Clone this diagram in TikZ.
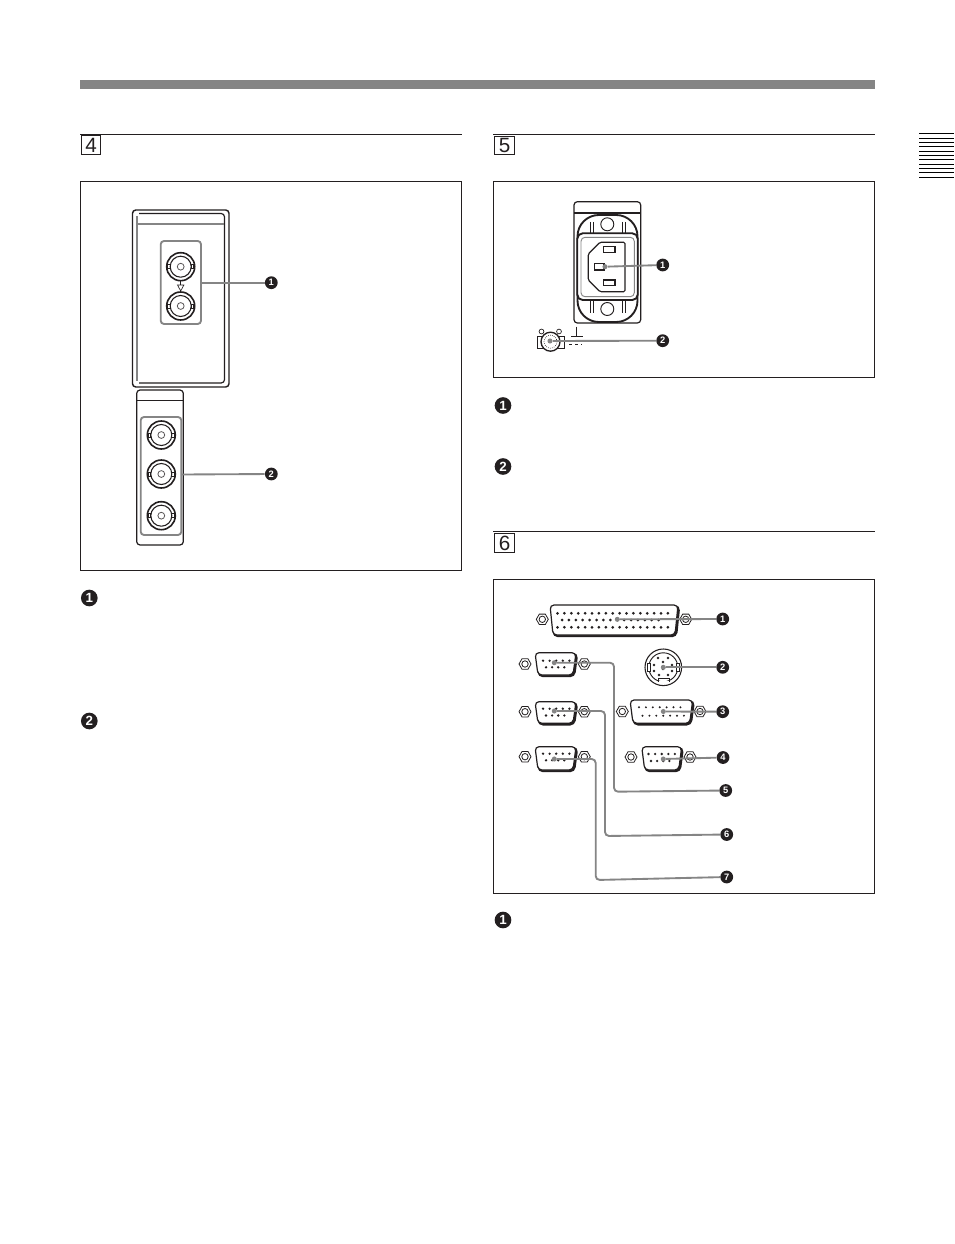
\documentclass[tikz,border=0pt]{standalone}
\usepackage{fontspec}
\setmainfont{Liberation Sans}
\usetikzlibrary{positioning}
\usetikzlibrary{calc}

\definecolor{leadgray}{HTML}{858585}
\definecolor{inkblack}{HTML}{231F20}

% d-sub shell: left, right, top, bottom
\newcommand{\dshell}[4]{
  \draw [inkblack,line width=1.8pt,rounded corners=3pt] ({#1+2},{#3+1.5}) -- ({#2+1},{#3+1.5}) -- ({#2-2},{#4+1}) -- ({#1+4},{#4+1}) -- cycle;
  \draw [inkblack,fill=white,line width=0.9pt,rounded corners=3pt] (#1,#3) -- (#2,#3) -- ({#2-3},#4) -- ({#1+3},#4) -- cycle;
}

\begin{document}
\begin{tikzpicture}
  [x=0.75pt,y=-0.75pt,
  frame/.style={draw=inkblack,line width=0.85pt},
  rule/.style={inkblack,line width=0.95pt},
  numbox/.style={draw=inkblack,line width=0.7pt,inner sep=0pt,minimum width=14.5pt,minimum height=14pt,font=\fontsize{15.5}{15.5}\selectfont,text=inkblack},
  bigbadge/.style={circle,fill=inkblack,text=white,inner sep=0pt,minimum size=12.5pt,font=\fontsize{10}{10}\selectfont\bfseries},
  badge/.style={circle,fill=inkblack,text=white,inner sep=0pt,minimum size=9.6pt,font=\fontsize{7}{7}\selectfont\bfseries},
  dot/.style={circle,fill=leadgray,inner sep=0pt,minimum size=3.8pt},
  lead/.style={leadgray,line width=1.4pt},
  panel/.style={draw=inkblack,line width=0.9pt,rounded corners=2.5pt},
  grayline/.style={draw=leadgray,line width=1.4pt,rounded corners=2.5pt},
  bnc/.pic={
    \draw [inkblack,line width=1.2pt] (0,0) circle (14);
    \draw [inkblack,line width=0.8pt] (0,0) circle (10.5);
    \draw [inkblack,line width=0.5pt] (-13,-2) rectangle (-10.5,2);
    \draw [inkblack,line width=0.5pt] (13,-2) rectangle (10.5,2);
    \draw [inkblack!75,line width=0.6pt] (0,0) circle (3.4);
  },
  screw/.pic={
    \draw [inkblack,line width=0.6pt] (0:6) -- (60:6) -- (120:6) -- (180:6) -- (240:6) -- (300:6) -- cycle;
    \draw [inkblack,line width=0.6pt] (0,0) circle (3.2);
  }]
  \useasboundingbox (0,0) rectangle (954,1244);
  \fill [white] (0,0) rectangle (954,1244);

  % page furniture
  \fill [leadgray] (80,80) rectangle (875,89);
  \foreach \ypos in {133.5,138.3,142.3,146.3,151.3,155.3,159.3,164.7,168.7,172.7,177.3}
    \draw [black,line width=0.8pt] (919,\ypos) -- (954,\ypos);

  \draw [rule] (80,134.3) -- (462,134.3);
  \draw [rule] (493,134.3) -- (875,134.3);
  \draw [rule] (493,531.5) -- (875,531.5);
  \node [numbox] (num4) at (91,145) {4};
  \node [numbox] (num5) at (504.5,145.5) {5};
  \node [numbox] (num6) at (504.5,543) {6};

  \draw [frame] (80.5,181.5) rectangle (461.5,570.5);
  \draw [frame] (493.5,181.5) rectangle (874.5,377.5);
  \draw [frame] (493.5,579.5) rectangle (874.5,893.5);

  \node [bigbadge] (text41) at (89.3,598) {1};
  \node [bigbadge] (text42) at (89.3,721) {2};
  \node [bigbadge] (text51) at (503,405.5) {1};
  \node [bigbadge] (text52) at (503,466.5) {2};
  \node [bigbadge] (text61) at (503,920) {1};

  % section 4, upper panel
  \draw [panel,line width=1.1pt] (132.5,210) rectangle (229,387);
  \draw [leadgray,line width=1.2pt] (137,216) -- (137,381);
  \draw [panel] (139,383) -- (224.5,383) -- (224.5,213.5) -- (139,213.5);
  \draw [leadgray,line width=1.1pt] (137,224) -- (224,224);
  \draw [grayline] (160.7,241) rectangle (201,324);
  \pic at (180.7,266.7) {bnc};
  \pic at (180.7,306) {bnc};
  \draw [inkblack,line width=0.5pt] (180.7,281) -- (180.7,285);
  \draw [inkblack,line width=0.5pt] (177.5,285) -- (183.9,285) -- (180.7,291) -- cycle;
  \coordinate (group41) at (201,282.7);
  \node [badge] (b41) at (271.3,282.7) {1};
  \draw [lead] (group41) -- (b41);

  % section 4, lower panel
  \draw [panel] (136.7,390) rectangle (183.3,545);
  \draw [inkblack,line width=0.8pt] (136.7,400.7) -- (183.3,400.7);
  \draw [grayline] (140.7,417) rectangle (181.3,535);
  \pic at (161.3,435) {bnc};
  \pic at (161.3,474) {bnc};
  \pic at (161.3,515.7) {bnc};
  \coordinate (group42) at (181.3,474.5);
  \node [badge] (b42) at (271.3,474) {2};
  \draw [lead] (group42) -- (b42);

  % section 5, socket
  \draw [panel] (574,201.7) rectangle (640.7,323);
  \draw [inkblack,line width=0.8pt] (574,213) -- (640.7,213);
  \draw [inkblack,line width=1.4pt,rounded corners=16pt] (577.5,215) rectangle (637.5,322);
  \draw [inkblack,line width=0.7pt] (607.3,224.3) circle (6.5);
  \draw [inkblack,line width=0.7pt] (607.3,309) circle (6.5);
  \draw [inkblack,line width=0.6pt] (590,222) -- (590,233) (593,222) -- (593,233);
  \draw [inkblack,line width=0.6pt] (622,222) -- (622,233) (625,222) -- (625,233);
  \draw [inkblack,line width=0.6pt] (590,300) -- (590,313) (593,300) -- (593,313);
  \draw [inkblack,line width=0.6pt] (622,300) -- (622,313) (625,300) -- (625,313);
  \draw [inkblack,fill=white,line width=1.4pt,rounded corners=4pt] (577.3,233.3) rectangle (637.7,300);
  \draw [leadgray,line width=0.7pt,rounded corners=3pt] (581,237.3) rectangle (634.3,296.7);
  \draw [inkblack,line width=0.9pt,rounded corners=1pt] (588.3,254) -- (600,242.3) -- (625,242.3) -- (625,291.7) -- (600,291.7) -- (588.3,280) -- cycle;
  \draw [inkblack,line width=0.9pt] (603.3,246.7) rectangle (615,252.3);
  \draw [inkblack,line width=0.9pt] (603.3,280) rectangle (615,285.7);
  \draw [inkblack,line width=0.9pt] (594.3,263.3) rectangle (604,270);
  \node [dot] (d51) at (605,266.7) {};
  \node [badge] (b51) at (662.7,265) {1};
  \draw [lead] (d51) -- (b51);

  % section 5, earth terminal
  \draw [inkblack,line width=0.5pt] (541.5,331.5) circle (2.4);
  \draw [inkblack,line width=0.5pt] (559,331.5) circle (2.4);
  \draw [inkblack,line width=0.7pt] (537,336) rectangle (564,348);
  \draw [inkblack,fill=white,line width=1pt] (550.5,341.7) circle (9.5);
  \draw [inkblack,line width=0.5pt,densely dotted] (550.5,341.7) circle (6.5);
  \draw [inkblack,line width=0.6pt] (576.7,326.7) -- (576.7,336.7);
  \draw [inkblack,line width=0.6pt] (571,336.7) -- (583.3,336.7);
  \draw [inkblack,line width=0.6pt,dash pattern=on 2pt off 2.5pt] (569,344) -- (582,344);
  \node [dot] (d52) at (550,341) {};
  \node [badge] (b52) at (662.7,340.7) {2};
  \draw [lead] (d52) -- (b52);

  % section 6, connectors
  \dshell{550}{678}{605}{635}
  \foreach \xpos in {557.5,564.4,...,669} \fill [inkblack] (\xpos,613.3) circle (1.5);
  \foreach \xpos in {562,568.9,...,665} \fill [inkblack] (\xpos,620) circle (1.5);
  \foreach \xpos in {557.5,564.4,...,669} \fill [inkblack] (\xpos,627.3) circle (1.5);
  \pic at (542.3,619.3) {screw};
  \pic at (685.7,619.3) {screw};

  \draw [inkblack,line width=0.8pt] (663.3,667.3) circle (18.3);
  \draw [inkblack,line width=0.7pt] (663.3,667.3) circle (14.5);
  \draw [inkblack,fill=white,line width=0.7pt] (647,663) rectangle (650.5,671);
  \draw [inkblack,fill=white,line width=0.7pt] (676,663) rectangle (679.5,671);
  \draw [white,line width=1.2pt] (658,681.8) -- (669,681.8);
  \draw [inkblack,line width=0.7pt] (658,681.5) -- (658,678) -- (669,678) -- (669,681.5);
  \foreach \xpos/\ypos in {658/658,668/658,654/665,663/662,672/665,654/671,663/669,672/671,659/675,668/675}
    \fill [inkblack] (\xpos,\ypos) circle (1.4);

  \dshell{630}{692.7}{700}{723.3}
  \foreach \xpos in {639,645.9,...,687} \fill [inkblack] (\xpos,707.3) circle (1.1);
  \foreach \xpos in {642.5,649.4,...,684} \fill [inkblack] (\xpos,715.7) circle (1.1);
  \pic at (622.3,711.5) {screw};
  \pic at (700,711.5) {screw};

  \dshell{641.7}{681.7}{746.7}{770}
  \foreach \xpos in {648.5,655.1,...,676} \fill [inkblack] (\xpos,754) circle (1.3);
  \foreach \xpos in {651,657.1,...,672} \fill [inkblack] (\xpos,761) circle (1.3);
  \pic at (631,757) {screw};
  \pic at (690,757) {screw};

  \dshell{535}{576}{652.7}{675}
  \foreach \xpos in {543,549.6,...,570} \fill [inkblack] (\xpos,660.7) circle (1.3);
  \foreach \xpos in {546,552.1,...,567} \fill [inkblack] (\xpos,667.3) circle (1.3);
  \pic at (525,664) {screw};
  \pic at (584.3,664) {screw};

  \dshell{535}{576}{701.7}{723.3}
  \foreach \xpos in {543,549.6,...,570} \fill [inkblack] (\xpos,708.7) circle (1.3);
  \foreach \xpos in {546,552.1,...,567} \fill [inkblack] (\xpos,715.5) circle (1.3);
  \pic at (525,711.7) {screw};
  \pic at (584.3,711.7) {screw};

  \dshell{535}{576}{746.7}{770}
  \foreach \xpos in {543,549.6,...,570} \fill [inkblack] (\xpos,753.7) circle (1.3);
  \foreach \xpos in {546,552.1,...,567} \fill [inkblack] (\xpos,760.3) circle (1.3);
  \pic at (525,756.7) {screw};
  \pic at (584.3,756.7) {screw};

  % section 6, leaders
  \node [dot] (d61) at (617.3,619.3) {};
  \node [dot] (d62) at (663.3,667.3) {};
  \node [dot] (d63) at (663.3,711.5) {};
  \node [dot] (d64) at (663.3,759) {};
  \node [dot] (d65) at (554.3,662.7) {};
  \node [dot] (d66) at (554.3,711) {};
  \node [dot] (d67) at (554.3,759) {};

  \node [badge] (b61) at (722.7,619) {1};
  \node [badge] (b62) at (722.7,667.3) {2};
  \node [badge] (b63) at (722.7,711.7) {3};
  \node [badge] (b64) at (723,757.5) {4};
  \node [badge] (b65) at (725.7,790.5) {5};
  \node [badge] (b66) at (726.7,834.5) {6};
  \node [badge] (b67) at (726.7,877) {7};

  \draw [lead] (d61) -- (b61);
  \draw [lead] (d62) -- (b62);
  \draw [lead] (d63) -- (b63);
  \draw [lead] (d64) -- (b64);

  \coordinate (bend65a) at (614,662.7);
  \coordinate (bend65b) at (614,791.7);
  \coordinate (bend66a) at (605,711);
  \coordinate (bend66b) at (605,836);
  \coordinate (bend67a) at (595.7,759);
  \coordinate (bend67b) at (595.7,880);
  \draw [lead,rounded corners=3pt] (d65) -- (bend65a) -- (bend65b) -- (b65);
  \draw [lead,rounded corners=3pt] (d66) -- (bend66a) -- (bend66b) -- (b66);
  \draw [lead,rounded corners=3pt] (d67) -- (bend67a) -- (bend67b) -- (b67);
\end{tikzpicture}
\end{document}
